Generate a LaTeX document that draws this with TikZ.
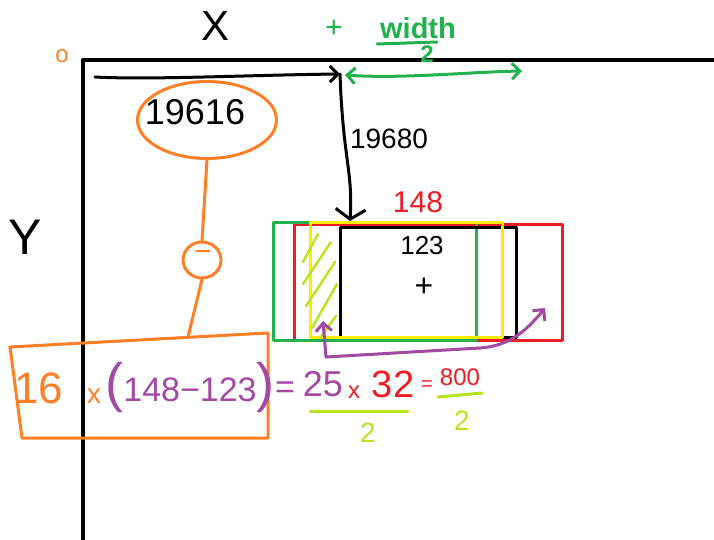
\documentclass[tikz,border=0pt]{standalone}
\usepackage{fontspec}
\setmainfont{Liberation Sans}
\usetikzlibrary{arrows.meta,shapes.geometric}
\definecolor{myorange}{RGB}{255,127,39}
\definecolor{mygreen}{RGB}{34,177,76}
\definecolor{myred}{RGB}{237,28,36}
\definecolor{myyellow}{RGB}{255,236,0}
\definecolor{mypurple}{RGB}{163,73,164}
\definecolor{mylime}{RGB}{181,230,29}
\newcommand\myfs[1]{\fontsize{#1}{#1}\selectfont}
\tikzset{mybarb/.tip={Straight Barb[length=8pt,width=16pt]},
  widebarb/.tip={Straight Barb[length=10pt,width=30pt]}}
\begin{document}
\begin{tikzpicture}[x=1pt,y=-1pt,line cap=round,line join=round,
  pen/.style={line width=3pt},
  txt/.style={inner sep=0pt,outer sep=0pt}]
\fill[white] (0,0) rectangle (714,540);
\useasboundingbox (0,0) rectangle (714,540);
% frame
\draw[line width=4.2pt,line cap=butt] (83,540) -- (83,60) -- (714,60);
% axis labels
\node[txt] (X) at (216,26) {\myfs{42}X};
\node[txt] (Y) at (25,237) {\myfs{50}Y};
\node[txt,text=myorange] (o) at (62,56) {\myfs{24}o};
% rectangles
\node[draw=myred,pen,minimum width=268pt,minimum height=116pt] (redr) at (428,282) {};
\node[draw=mygreen,pen,minimum width=203pt,minimum height=118pt] (greenr) at (374.5,281) {};
\node[draw=black,pen,minimum width=176pt,minimum height=110pt] (blackr) at (428,282) {};
\node[draw=myyellow,pen,minimum width=192pt,minimum height=115pt] (yellowr) at (406,279.5) {};
% hatching
\draw[mylime,line width=2.4pt] (303,262) -- (318,234)
  (303,284) -- (331,242)
  (306,306) -- (335,262)
  (312,328) -- (337,284)
  (320,338) -- (336,316);
% labels in rectangles
\node[txt,text=myred] (t148) at (418,202) {\myfs{30}148};
\node[txt] (t123) at (422,246) {\myfs{26}123};
\node[txt] (plus) at (424,287) {\myfs{32}+};
% black arrows
\coordinate (xs) at (95,77);
\coordinate (corner) at (340,74);
\coordinate (ye) at (350,221);
\draw[pen,-{mybarb}] (xs) .. controls (150,80) and (250,75) .. (corner);
\draw[pen,-{widebarb}] (corner) .. controls (343,160) and (353,170) .. (ye);
\node[txt] (t19680) at (389,139) {\myfs{28}19680};
% green width/2
\node[txt,text=mygreen] (gplus) at (334,29) {\myfs{30}+};
\node[txt,text=mygreen] (gwidth) at (418,28) {\myfs{29}\bfseries width};
\draw[pen,mygreen] (377,44) -- (437,42);
\node[txt,text=mygreen] (g2) at (427,54) {\myfs{24}\bfseries 2};
\coordinate (gl) at (345,75);
\coordinate (gr) at (522,71);
\draw[pen,mygreen,{mybarb}-{mybarb}] (gl) .. controls (400,79) and (470,72) .. (gr);
% orange ellipse, minus, box
\node[draw=myorange,pen,ellipse,minimum width=139pt,minimum height=77pt] (ell) at (207,120) {};
\node[txt] (t19616) at (195,112) {\myfs{36}19616};
\node[draw=myorange,pen,ellipse,minimum width=38pt,minimum height=36pt,inner sep=0pt] (minus) at (202,260) {};
\node[txt,text=myorange] (minussign) at (203,256) {\myfs{30}−};
\draw[pen,myorange] (10,347) -- (268,333) -- (268,438) -- (22,438) -- cycle;
\coordinate (boxtop) at (188,337);
\draw[pen,myorange] (ell.south) -- (minus.north);
\draw[pen,myorange] (minus.south) -- (boxtop);
% equation
\node[txt,text=myorange] (t16) at (39,388) {\myfs{44}16};
\node[txt,text=myorange] (tx1) at (94,396) {\myfs{28}x};
\node[txt,text=mypurple] (paren) at (190,388) {\myfs{54}(\myfs{34}148−123\myfs{54})};
\node[txt,text=mypurple] (eq1) at (285,390) {\myfs{34}=};
\node[txt,text=mypurple] (t25) at (323,384) {\myfs{36}25};
\node[txt,text=myred] (tx2) at (354,392) {\myfs{24}x};
\node[txt,text=myred] (t32) at (393,384) {\myfs{38}32};
\node[txt,text=myred] (eq2) at (427,386) {\myfs{20}=};
\node[txt,text=myred] (t800) at (460,377) {\myfs{24}800};
\draw[pen,mylime] (310,411) -- (408,411);
\node[txt,text=mylime] (d1) at (368,433) {\myfs{28}2};
\draw[pen,mylime] (438,397) -- (482,393);
\node[txt,text=mylime] (d2) at (462,421) {\myfs{28}2};
% purple arrow
\coordinate (pl) at (323,321);
\coordinate (pr) at (545,308);
\draw[pen,mypurple,{mybarb}-{mybarb}] (pl) -- (326,357) -- (480,348) .. controls (510,346) and (527,330) .. (pr);
\end{tikzpicture}
\end{document}
